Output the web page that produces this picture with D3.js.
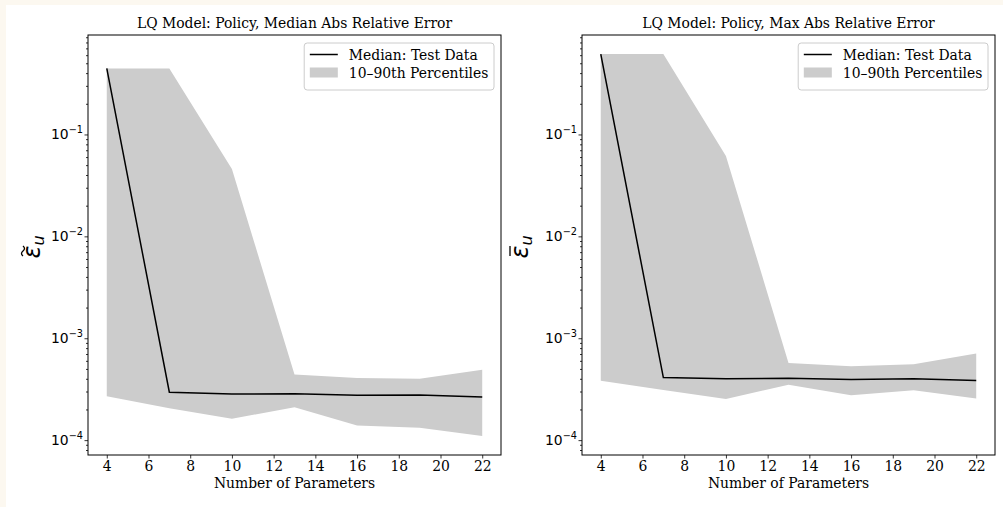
<!doctype html>
<html>
<head>
<meta charset="utf-8">
<title>LQ Model: Policy errors</title>
<script src="https://cdnjs.cloudflare.com/ajax/libs/d3/7.8.5/d3.min.js"></script>
<style>
  body { margin: 0; background: #fcf8f0; }
  svg { display: block; }
  .serif { font-family: "DejaVu Serif", serif; }
  .sans { font-family: "DejaVu Sans", sans-serif; }
</style>
</head>
<body>
<div id="chart"></div>
<script>
// number of parameters on the x axis
const params = [4, 7, 10, 13, 16, 19, 22];

// left panel: median abs relative error
const medMedian = [0.445, 2.95e-4, 2.83e-4, 2.86e-4, 2.76e-4, 2.77e-4, 2.65e-4];
const medP10    = [2.7e-4, 2.05e-4, 1.62e-4, 2.1e-4, 1.39e-4, 1.32e-4, 1.1e-4];
const medP90    = [0.445, 0.445, 0.0457, 4.4e-4, 4.08e-4, 4.0e-4, 4.9e-4];

// right panel: max abs relative error
const maxMedian = [0.615, 4.11e-4, 4.0e-4, 4.05e-4, 3.94e-4, 4.0e-4, 3.85e-4];
const maxP10    = [3.82e-4, 3.1e-4, 2.54e-4, 3.5e-4, 2.75e-4, 3.09e-4, 2.56e-4];
const maxP90    = [0.615, 0.615, 0.0616, 5.73e-4, 5.3e-4, 5.55e-4, 7.08e-4];

const xTicks = [4, 6, 8, 10, 12, 14, 16, 18, 20, 22];
const yTicks = [1e-4, 1e-3, 1e-2, 1e-1];
const legendLabels = ["Median: Test Data", "10\u201390th Percentiles"];

const W = 1003, H = 507;
const plotTop = 35, plotBottom = 455;
const fs = 13.9;

const svg = d3.select("#chart").append("svg")
  .attr("width", W).attr("height", H);

// white figure area inside the cream page
svg.append("rect").attr("x", 6).attr("y", 5).attr("width", W - 6).attr("height", H - 5)
  .attr("fill", "#ffffff");

// shared y limits, matplotlib style 5% margin in log space
const allVals = [].concat(medP10, medP90, medMedian, maxP10, maxP90, maxMedian);
const lmin = Math.log10(d3.min(allVals)), lmax = Math.log10(d3.max(allVals));
const m = (lmax - lmin) * 0.05;
const y = d3.scaleLog().domain([10 ** (lmin - m), 10 ** (lmax + m)]).range([plotBottom, plotTop]);

// minor ticks 2..9 in each decade
let yMinor = [];
for (let e = -6; e <= 1; e++) {
  for (let k = 2; k <= 9; k++) {
    const v = k * 10 ** e;
    if (v >= y.domain()[0] && v <= y.domain()[1]) yMinor.push(v);
  }
}

function drawPanel(x0, x1, title, median, p10, p90, accent, labelOff) {
  const xm = (d3.max(params) - d3.min(params)) * 0.05;
  const x = d3.scaleLinear()
    .domain([d3.min(params) - xm, d3.max(params) + xm])
    .range([x0, x1]);

  const g = svg.append("g");
  const rows = params.map((p, i) => ({ p, lo: p10[i], hi: p90[i], med: median[i] }));

  // percentile band
  g.append("path")
    .datum(rows)
    .attr("fill", "#cccccc")
    .attr("d", d3.area().x(d => x(d.p)).y0(d => y(d.lo)).y1(d => y(d.hi)));

  // median line
  g.append("path")
    .datum(rows)
    .attr("fill", "none")
    .attr("stroke", "#000")
    .attr("stroke-width", 1.5)
    .attr("d", d3.line().x(d => x(d.p)).y(d => y(d.med)));

  // x axis
  const xa = g.append("g")
    .attr("transform", `translate(0,${plotBottom})`)
    .call(d3.axisBottom(x).tickValues(xTicks).tickSize(3.5).tickPadding(3).tickSizeOuter(0));
  xa.select(".domain").remove();
  xa.selectAll("text").attr("class", "serif").attr("font-size", fs).attr("fill", "#000");

  // y axis major / minor ticks
  const ya = g.append("g")
    .attr("transform", `translate(${x0},0)`)
    .call(d3.axisLeft(y).tickValues(yTicks).tickSize(3.5).tickFormat(""));
  ya.select(".domain").remove();
  const ym = g.append("g")
    .attr("transform", `translate(${x0},0)`)
    .call(d3.axisLeft(y).tickValues(yMinor).tickSize(2).tickFormat(""));
  ym.select(".domain").remove();
  g.selectAll(".tick line").attr("stroke", "#000").attr("stroke-width", 0.8);

  // y tick labels 10^n
  const yl = g.append("g").attr("class", "sans").attr("font-size", fs);
  yTicks.forEach(v => {
    const t = yl.append("text")
      .attr("x", x0 - 5)
      .attr("y", y(v) + 5)
      .attr("text-anchor", "end");
    t.append("tspan").text("10");
    t.append("tspan").attr("dy", -6).attr("font-size", fs * 0.7)
      .text("\u2212" + Math.abs(Math.round(Math.log10(v))));
  });

  // frame
  g.append("rect")
    .attr("x", x0).attr("y", plotTop)
    .attr("width", x1 - x0).attr("height", plotBottom - plotTop)
    .attr("fill", "none").attr("stroke", "#000").attr("stroke-width", 1);

  // title and x label
  g.append("text").attr("class", "serif").attr("font-size", fs)
    .attr("x", (x0 + x1) / 2).attr("y", plotTop - 7).attr("text-anchor", "middle")
    .text(title);
  g.append("text").attr("class", "serif").attr("font-size", fs)
    .attr("x", (x0 + x1) / 2).attr("y", 488).attr("text-anchor", "middle")
    .text("Number of Parameters");

  // y label: epsilon with accent, subscript u
  const lx = x0 - labelOff, ly = (plotTop + plotBottom) / 2 + 2;
  const lab = g.append("g").attr("transform", `translate(${lx},${ly}) rotate(-90)`);
  const lt = lab.append("text").attr("class", "sans").attr("font-size", 24)
    .attr("font-style", "italic").attr("text-anchor", "middle");
  lt.append("tspan").text("\u03b5");
  lt.append("tspan").attr("dy", 4).attr("font-size", 16).text("u");
  const ext = lt.node().getExtentOfChar(0);
  const ax = ext.x + ext.width / 2 + 1, ayTop = -19;
  if (accent === "tilde") {
    lab.append("path")
      .attr("d", `M${ax - 5},${ayTop + 2} q2.5,-3 5,0 q2.5,3 5,0`)
      .attr("fill", "none").attr("stroke", "#000").attr("stroke-width", 1.3);
  } else {
    lab.append("line")
      .attr("x1", ax - 5).attr("x2", ax + 5).attr("y1", ayTop + 1).attr("y2", ayTop + 1)
      .attr("stroke", "#000").attr("stroke-width", 1.3);
  }

  // legend
  const lg = g.append("g");
  const lbox = lg.append("rect").attr("rx", 3).attr("ry", 3)
    .attr("fill", "#fff").attr("fill-opacity", 0.8)
    .attr("stroke", "#cccccc").attr("stroke-width", 1);
  const rowY = [54.5, 72.5];
  const texts = legendLabels.map((s, i) =>
    lg.append("text").attr("class", "serif").attr("font-size", fs)
      .attr("y", rowY[i] + 5).text(s));
  const tw = d3.max(texts, t => t.node().getComputedTextLength());
  const bw = 5.6 + 28 + 11 + tw + 5.6;
  const bx = x1 - 7 - bw;
  lbox.attr("x", bx).attr("y", plotTop + 8).attr("width", bw).attr("height", 47);
  texts.forEach(t => t.attr("x", bx + 5.6 + 28 + 11));
  lg.append("line")
    .attr("x1", bx + 5.6).attr("x2", bx + 5.6 + 28)
    .attr("y1", rowY[0]).attr("y2", rowY[0])
    .attr("stroke", "#000").attr("stroke-width", 1.5);
  lg.append("rect")
    .attr("x", bx + 5.6).attr("y", rowY[1] - 5)
    .attr("width", 28).attr("height", 10)
    .attr("fill", "#cccccc");
}

drawPanel(88, 501, "LQ Model: Policy, Median Abs Relative Error", medMedian, medP10, medP90, "tilde", 48);
drawPanel(582, 995, "LQ Model: Policy, Max Abs Relative Error", maxMedian, maxP10, maxP90, "bar", 54);
</script>
</body>
</html>
